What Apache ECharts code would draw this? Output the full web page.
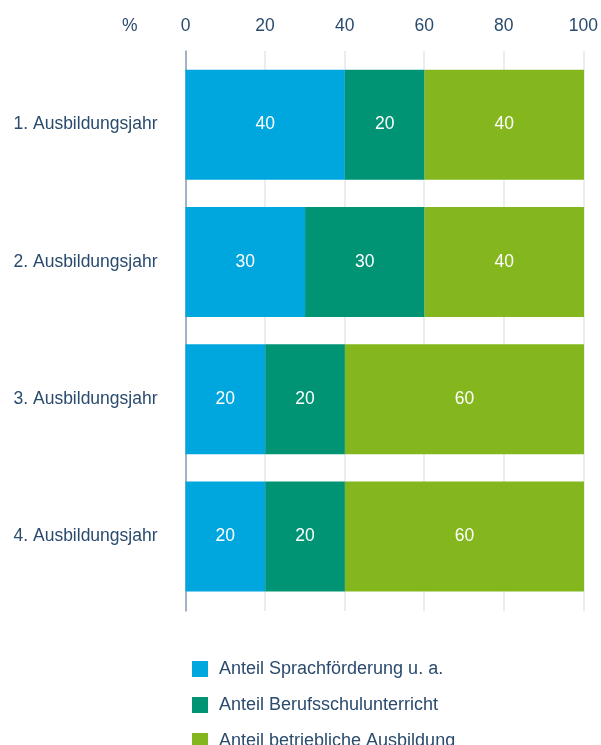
<!DOCTYPE html>
<html>
<head>
<meta charset="utf-8">
<style>
  html, body { margin: 0; padding: 0; background: #ffffff; }
  #chart { width: 601px; height: 745px; }
</style>
<script src="https://cdn.jsdelivr.net/npm/echarts@6/dist/echarts.min.js"></script>
</head>
<body>
<div id="chart"></div>
<script>
// Training years and the share (%) of each component per year
const years = ['1. Ausbildungsjahr', '2. Ausbildungsjahr', '3. Ausbildungsjahr', '4. Ausbildungsjahr'];
const seriesNames = ['Anteil Sprachförderung u. a.', 'Anteil Berufsschulunterricht', 'Anteil betriebliche Ausbildung'];
const sprachfoerderung = [40, 30, 20, 20];
const berufsschule = [20, 30, 20, 20];
const betrieblich = [40, 40, 60, 60];
const percentTicks = [0, 20, 40, 60, 80, 100];

const colors = ['#00a6de', '#009474', '#84b71d'];
const textColor = '#2a4b6e';
const fontFamily = '"Liberation Sans", Arial, sans-serif';
const fontSize = 17.5;

const chart = echarts.init(document.getElementById('chart'), null, { renderer: 'canvas' });

function barSeries(name, values, color) {
  return {
    name: name,
    type: 'bar',
    stack: 'total',
    xAxisIndex: 0,
    yAxisIndex: 0,
    barWidth: 110,
    itemStyle: { color: color },
    label: {
      show: true,
      position: 'inside',
      color: '#ffffff',
      fontSize: fontSize,
      fontFamily: fontFamily
    },
    emphasis: { disabled: true },
    data: values
  };
}

chart.setOption({
  animation: false,
  color: colors,
  grid: [
    // grid holding the bars
    { left: 185.5, right: 17, top: 56, bottom: 140 },
    // slightly taller grid carrying the gridlines and the zero axis line
    { left: 185.5, right: 17, top: 51, bottom: 134 }
  ],
  xAxis: [
    { gridIndex: 0, type: 'value', min: 0, max: 100, show: false },
    {
      gridIndex: 1,
      type: 'value',
      position: 'top',
      min: percentTicks[0],
      max: percentTicks[percentTicks.length - 1],
      interval: percentTicks[1] - percentTicks[0],
      name: '%',
      nameLocation: 'start',
      nameGap: 48,
      nameTextStyle: {
        color: textColor,
        fontSize: fontSize,
        fontFamily: fontFamily,
        verticalAlign: 'bottom',
        padding: [0, 0, 16, 0]
      },
      axisLine: { show: false },
      axisTick: { show: false },
      axisLabel: {
        color: textColor,
        fontSize: fontSize,
        fontFamily: fontFamily,
        margin: 16
      },
      splitLine: { show: true, lineStyle: { color: '#e3e8ef', width: 1.5 } }
    }
  ],
  yAxis: [
    {
      gridIndex: 0,
      type: 'category',
      inverse: true,
      data: years,
      axisLine: { show: false },
      axisTick: { show: false },
      axisLabel: {
        color: textColor,
        fontSize: fontSize,
        fontFamily: fontFamily,
        margin: 28
      }
    },
    {
      gridIndex: 1,
      type: 'category',
      data: [''],
      axisLine: { show: true, lineStyle: { color: '#8a9db3', width: 1.5 } },
      axisTick: { show: false },
      axisLabel: { show: false }
    }
  ],
  legend: {
    orient: 'vertical',
    left: 192,
    top: 660,
    height: 100,
    padding: 0,
    itemWidth: 16,
    itemHeight: 16,
    itemGap: 18,
    icon: 'rect',
    selectedMode: false,
    textStyle: {
      color: textColor,
      fontSize: 18,
      lineHeight: 16,
      fontFamily: fontFamily,
      padding: [0, 0, 0, 6]
    },
    data: seriesNames
  },
  series: [
    barSeries(seriesNames[0], sprachfoerderung, colors[0]),
    barSeries(seriesNames[1], berufsschule, colors[1]),
    barSeries(seriesNames[2], betrieblich, colors[2])
  ]
});
</script>
</body>
</html>
